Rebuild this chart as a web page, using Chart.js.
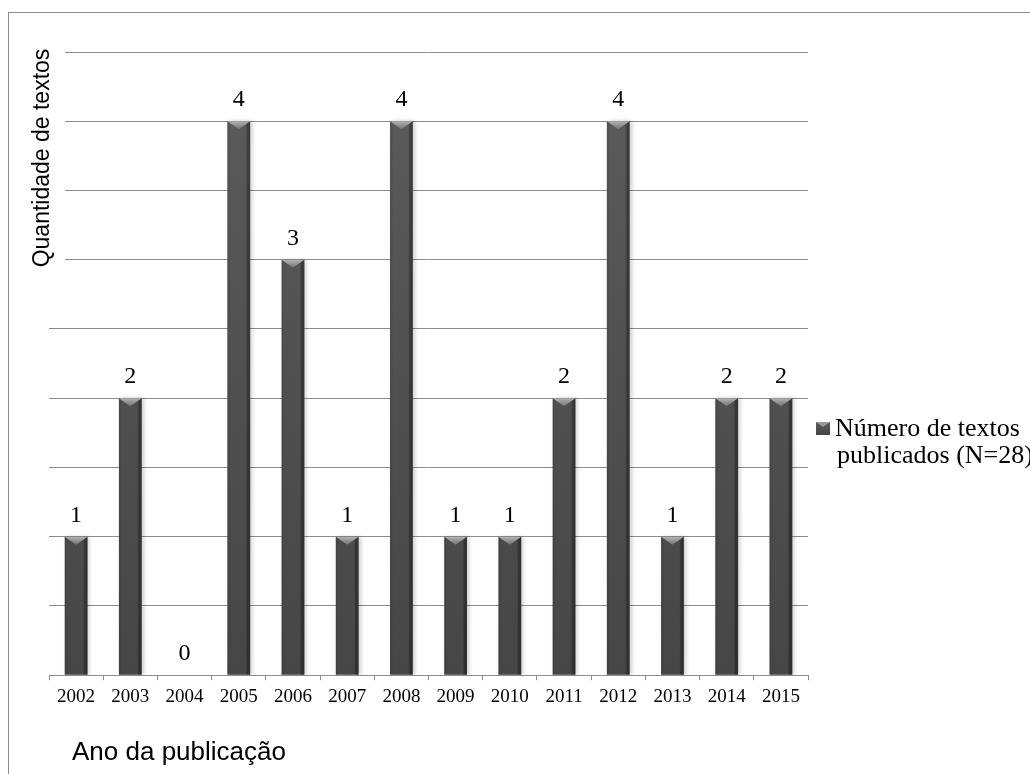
<!DOCTYPE html>
<html>
<head>
<meta charset="utf-8">
<script src="https://cdn.jsdelivr.net/npm/chart.js@4/dist/chart.umd.min.js"></script>
<style>
  html, body { margin: 0; padding: 0; background: #fff; }
  #wrap { width: 1030px; height: 774px; }
</style>
</head>
<body>
<div id="wrap"><canvas id="textos-chart"></canvas></div>
<script>
// Publicações por ano
const anos = ['2002', '2003', '2004', '2005', '2006', '2007', '2008', '2009', '2010', '2011', '2012', '2013', '2014', '2015'];
const textos = [1, 2, 0, 4, 3, 1, 4, 1, 1, 2, 4, 1, 2, 2];
const legendaLinhas = ['Número de textos', 'publicados (N=28)'];
const tituloY = 'Quantidade de textos';
const tituloX = 'Ano da publicação';

const serif = '"Liberation Serif", "Times New Roman", serif';
const sans = '"Liberation Sans", Arial, sans-serif';

// Frame, bar shading, value labels, titles and legend
const decoracao = {
    id: 'decoracao',
    beforeDraw(chart) {
        const c = chart.ctx;
        c.save();
        c.fillStyle = '#fff';
        c.fillRect(0, 0, chart.width, chart.height);
        c.strokeStyle = '#8c8c8c';
        c.lineWidth = 1;
        c.strokeRect(8.5, 12.5, chart.width + 20, chart.height + 20);
        c.restore();
    },
    beforeDatasetDraw(chart) {
        const c = chart.ctx;
        c.save();
        c.shadowColor = 'rgba(0,0,0,0.2)';
        c.shadowBlur = 4;
        c.shadowOffsetX = 2;
    },
    afterDatasetDraw(chart) {
        chart.ctx.restore();
    },
    afterDatasetsDraw(chart) {
        const c = chart.ctx;
        const meta = chart.getDatasetMeta(0);
        c.save();
        meta.data.forEach((bar, i) => {
            const v = textos[i];
            const w = bar.width;
            const l = bar.x - w / 2;
            const r = bar.x + w / 2;
            if (v > 0) {
                // side shading
                const hg = c.createLinearGradient(l, 0, r, 0);
                hg.addColorStop(0, 'rgba(0,0,0,0.12)');
                hg.addColorStop(0.15, 'rgba(0,0,0,0.0)');
                hg.addColorStop(0.8, 'rgba(0,0,0,0.0)');
                hg.addColorStop(0.88, 'rgba(0,0,0,0.3)');
                hg.addColorStop(1, 'rgba(0,0,0,0.35)');
                c.fillStyle = hg;
                c.fillRect(l, bar.y, w, bar.base - bar.y);
                // bevel chevron on top
                const tg = c.createLinearGradient(0, bar.y, 0, bar.y + 8);
                tg.addColorStop(0, '#b4b4b4');
                tg.addColorStop(1, '#727272');
                c.fillStyle = tg;
                c.beginPath();
                c.moveTo(l, bar.y);
                c.lineTo(r, bar.y);
                c.lineTo(bar.x, bar.y + 8);
                c.closePath();
                c.fill();
            }
            c.fillStyle = '#000';
            c.font = '24px ' + serif;
            c.textAlign = 'center';
            c.textBaseline = 'alphabetic';
            c.fillText(String(v), bar.x, bar.y - 15);
        });

        // y title with its white box over the gridlines
        const area = chart.chartArea;
        c.fillStyle = '#fff';
        c.fillRect(area.left - 20, 40, 36, 236);
        c.save();
        c.translate(43, 158);
        c.rotate(-Math.PI / 2);
        c.fillStyle = '#000';
        c.font = '23px ' + sans;
        c.textAlign = 'center';
        c.textBaseline = 'middle';
        c.fillText(tituloY, 0, 0);
        c.restore();

        // x title
        c.fillStyle = '#000';
        c.font = '26px ' + sans;
        c.textAlign = 'left';
        c.textBaseline = 'alphabetic';
        c.fillText(tituloX, 72, 760);

        // legend
        const lx = area.right + 8, ly = 422;
        const sg = c.createLinearGradient(0, ly, 0, ly + 13);
        sg.addColorStop(0, '#5e5e5e');
        sg.addColorStop(1, '#444');
        c.fillStyle = sg;
        c.fillRect(lx, ly, 14, 13);
        c.fillStyle = '#9a9a9a';
        c.beginPath();
        c.moveTo(lx, ly);
        c.lineTo(lx + 14, ly);
        c.lineTo(lx + 7, ly + 5);
        c.closePath();
        c.fill();
        c.fillStyle = '#000';
        c.font = '26px ' + serif;
        c.fillText(legendaLinhas[0], lx + 19, 436);
        c.fillText(legendaLinhas[1], lx + 21, 463);
        c.restore();
    }
};

const ctx = document.getElementById('textos-chart').getContext('2d');
new Chart(ctx, {
    type: 'bar',
    data: {
        labels: anos,
        datasets: [{
            label: legendaLinhas.join(' '),
            data: textos,
            backgroundColor: (context) => {
                const area = context.chart.chartArea;
                if (!area) return '#505050';
                const g = context.chart.ctx.createLinearGradient(0, area.bottom, 0, area.top);
                g.addColorStop(0, '#464646');
                g.addColorStop(1, '#5c5c5c');
                return g;
            },
            borderWidth: 0,
            barPercentage: 0.42,
            categoryPercentage: 1
        }]
    },
    options: {
        responsive: true,
        maintainAspectRatio: false,
        animation: false,
        layout: {
            padding: { left: 49, top: 52, right: 222, bottom: 61 }
        },
        plugins: {
            legend: { display: false },
            tooltip: { enabled: false }
        },
        scales: {
            x: {
                grid: {
                    offset: true,
                    drawOnChartArea: false,
                    drawTicks: true,
                    tickLength: 5,
                    color: '#8c8c8c'
                },
                border: { display: true, color: '#8c8c8c' },
                ticks: {
                    color: '#000',
                    font: { family: serif, size: 19 },
                    padding: 5,
                    maxRotation: 0
                }
            },
            y: {
                min: 0,
                max: 4.5,
                grid: {
                    color: '#8c8c8c',
                    drawTicks: false
                },
                border: { display: false },
                ticks: { display: false, stepSize: 0.5 }
            }
        }
    },
    plugins: [decoracao]
});
</script>
</body>
</html>
